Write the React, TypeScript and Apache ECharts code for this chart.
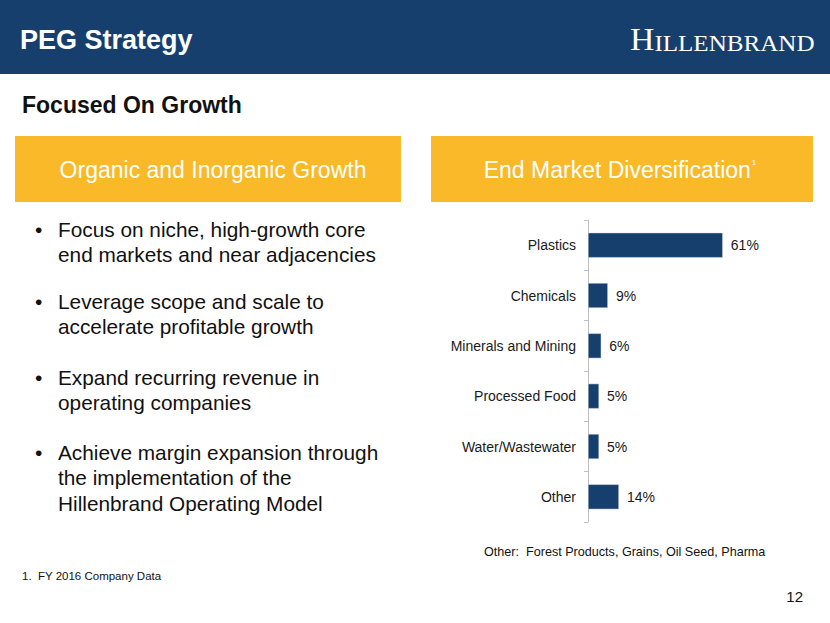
import React, { useEffect, useRef } from "react";
import * as echarts from "echarts";

const categories = ["Plastics", "Chemicals", "Minerals and Mining", "Processed Food", "Water/Wastewater", "Other"];
const shares = [61, 9, 6, 5, 5, 14];

const bullets = [
  ["Focus on niche, high-growth core", "end markets and near adjacencies"],
  ["Leverage scope and scale to", "accelerate profitable growth"],
  ["Expand recurring revenue in", "operating companies"],
  ["Achieve margin expansion through", "the implementation of the", "Hillenbrand Operating Model"],
];
const bulletTops = [229, 301, 377, 452];

const NAVY = "#163F6D";
const GOLD = "#F9B928";
const FONT = "Liberation Sans, Arial, sans-serif";
const SERIF = "Liberation Serif, DejaVu Serif, serif";

export default function App() {
  const ref = useRef<HTMLDivElement>(null);
  useEffect(() => {
    if (!ref.current) return;
    const chart = echarts.init(ref.current, null, { renderer: "svg" });
    const graphics: any[] = [
      { type: "rect", shape: { x: 0, y: 0, width: 830, height: 74 }, style: { fill: NAVY }, z: 0 },
      {
        type: "text", x: 20, y: 40,
        style: { text: "PEG Strategy", fill: "#fff", font: `bold 27px ${FONT}`, verticalAlign: "middle" },
      },
      {
        type: "text", x: 630, y: 39, scaleX: 1.09,
        style: {
          text: "{a|H}{b|ILLENBRAND}", align: "left", verticalAlign: "middle",
          rich: {
            a: { fill: "#fff", fontFamily: SERIF, fontSize: 31, verticalAlign: "bottom" },
            b: { fill: "#fff", fontFamily: SERIF, fontSize: 23, verticalAlign: "bottom" },
          },
        },
      },
      {
        type: "text", x: 22, y: 105,
        style: { text: "Focused On Growth", fill: "#111", font: `bold 23px ${FONT}`, verticalAlign: "middle" },
      },
      { type: "rect", shape: { x: 15, y: 136, width: 386, height: 66 }, style: { fill: GOLD } },
      { type: "rect", shape: { x: 431, y: 136, width: 382, height: 66 }, style: { fill: GOLD } },
      {
        type: "text", x: 213, y: 170,
        style: { text: "Organic and Inorganic Growth", fill: "#fff", font: `23px ${FONT}`, align: "center", verticalAlign: "middle" },
      },
      {
        type: "text", x: 620, y: 170,
        style: {
          text: "{m|End Market Diversification}{s|1}", align: "center", verticalAlign: "middle",
          rich: {
            m: { fill: "#fff", fontFamily: FONT, fontSize: 23 },
            s: { fill: "#fff", fontFamily: FONT, fontSize: 8, verticalAlign: "top", padding: [0, 0, 10, 1] },
          },
        },
      },
      {
        type: "text", x: 484, y: 552,
        style: { text: "Other:  Forest Products, Grains, Oil Seed, Pharma", fill: "#111", font: `12.6px ${FONT}`, verticalAlign: "middle" },
      },
      {
        type: "text", x: 22, y: 576,
        style: { text: "1.  FY 2016 Company Data", fill: "#111", font: `11.5px ${FONT}`, verticalAlign: "middle" },
      },
      {
        type: "text", x: 803, y: 596,
        style: { text: "12", fill: "#111", font: `15px ${FONT}`, align: "right", verticalAlign: "middle" },
      },
    ];
    bullets.forEach((lines, i) => {
      graphics.push({
        type: "text", x: 35, y: bulletTops[i],
        style: { text: "•", fill: "#111", font: `21px ${FONT}`, verticalAlign: "middle" },
      });
      lines.forEach((line, j) => {
        graphics.push({
          type: "text", x: 58, y: bulletTops[i] + j * 25.5,
          style: { text: line, fill: "#111", font: `20.8px ${FONT}`, verticalAlign: "middle" },
        });
      });
    });

    chart.setOption({
      animation: false,
      backgroundColor: "#fff",
      grid: { left: 588, top: 220, width: 221, height: 302, containLabel: false },
      xAxis: { type: "value", min: 0, max: 100, show: false },
      yAxis: {
        type: "category", data: categories, inverse: true,
        axisLine: { show: true, lineStyle: { color: "#BFBFBF", width: 1 } },
        axisTick: { show: true, length: 4, lineStyle: { color: "#BFBFBF" } },
        axisLabel: { color: "#1a1a1a", fontFamily: FONT, fontSize: 14, margin: 12 },
      },
      series: [
        {
          type: "bar", data: shares, barWidth: 25,
          itemStyle: { color: NAVY, borderColor: "#d9e1ea", borderWidth: 0.5 },
          label: { show: true, position: "right", distance: 8, formatter: "{c}%", color: "#1a1a1a", fontFamily: FONT, fontSize: 14 },
        },
      ],
      graphic: graphics,
    });
    return () => chart.dispose();
  }, []);
  return <div ref={ref} style={{ position: "fixed", left: 0, top: 0, width: 830, height: 623 }} />;
}
